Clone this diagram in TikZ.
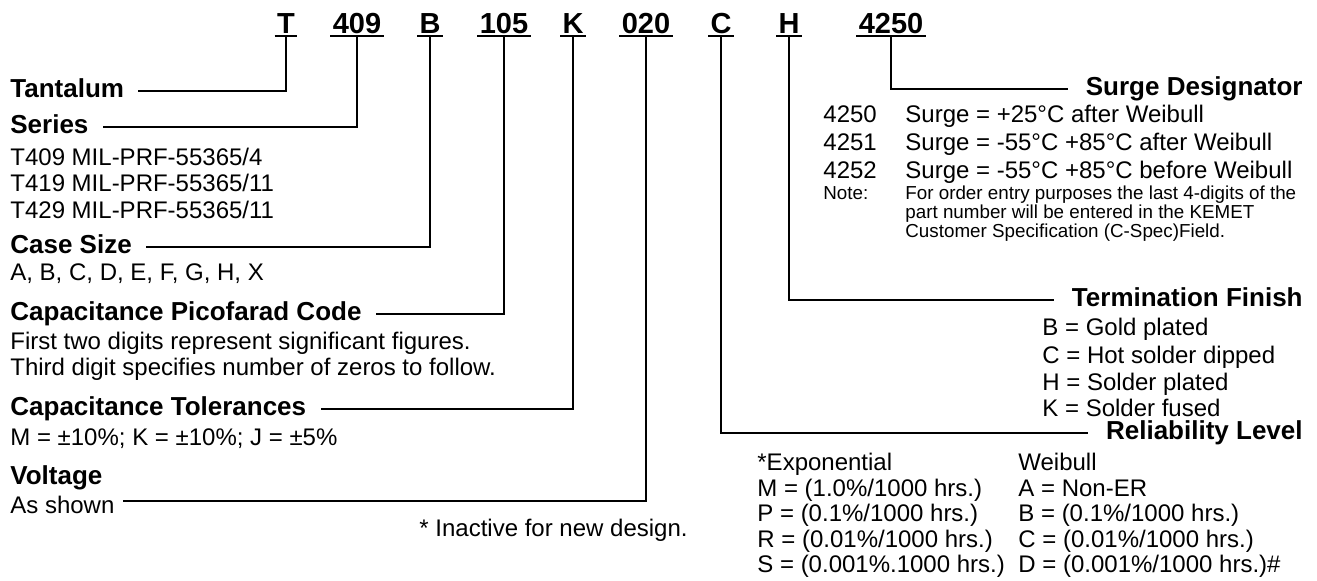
\documentclass[tikz,border=0pt]{standalone}
\usepackage{fontspec}
\setmainfont{Liberation Sans}
\usetikzlibrary{calc}

\tikzset{
  code/.style={font=\fontsize{14.5}{17}\selectfont\bfseries, inner sep=0pt, anchor=base},
  lbl/.style={font=\fontsize{13}{15}\selectfont\bfseries, inner sep=0pt, anchor=west, text height=6pt, text depth=0pt},
  txt/.style={font=\fontsize{12}{14}\selectfont, inner sep=0pt, anchor=west, text height=8.6pt, text depth=0pt},
  small/.style={txt, font=\fontsize{9.4}{11}\selectfont, text height=6.7pt},
  lead/.style={line width=1pt},
  uline/.style={line width=1.3pt},
}

\begin{document}
\begin{tikzpicture}[x=0.5pt, y=-0.5pt]
\useasboundingbox (0,0) rectangle (1317,580);

% part number
\node[code] (cT) at (286,33) {T};
\node[code] (c409) at (357,33) {409};
\node[code] (cB) at (430,33) {B};
\node[code] (c105) at (504,33) {105};
\node[code] (cK) at (573,33) {K};
\node[code] (c020) at (646,33) {020};
\node[code] (cC) at (721,33) {C};
\node[code] (cH) at (789,33) {H};
\node[code] (c4250) at (891,33) {4250};
\foreach \c in {cT,c409,cB,c105,cK,c020,cC,cH,c4250}
  \draw[uline] ([xshift=-1pt,yshift=-1.4pt]\c.base west) -- ([xshift=1pt,yshift=-1.4pt]\c.base east);

% left side
\node[lbl] (tant) at (10,91) {Tantalum};
\node[lbl] (series) at (10,127) {Series};
\node[txt] (t409) at (10,157) {T409 MIL-PRF-55365/4};
\node[txt] (t419) at (10,183) {T419 MIL-PRF-55365/11};
\node[txt] (t429) at (10,210) {T429 MIL-PRF-55365/11};
\node[lbl] (case) at (10,247) {Case Size};
\node[txt] (sizes) at (10,272) {A, B, C, D, E, F, G, H, X};
\node[lbl] (pico) at (10,314) {Capacitance Picofarad Code};
\node[txt] (first) at (10,341) {First two digits represent significant figures.};
\node[txt] (third) at (10,367) {Third digit specifies number of zeros to follow.};
\node[lbl] (tol) at (10,409) {Capacitance Tolerances};
\node[txt] (tolv) at (10,437) {M = ±10\%; K = ±10\%; J = ±5\%};
\node[lbl] (volt) at (10,478) {Voltage};
\node[txt] (shown) at (10,505) {As shown};
\node[txt, anchor=east] (inact) at (688,528) {* Inactive for new design.};

\draw[lead, shorten >=7pt] ([yshift=-1.4pt]cT.base) |- (tant.east);
\draw[lead, shorten >=7pt] ([yshift=-1.4pt]c409.base) |- (series.east);
\draw[lead, shorten >=7pt] ([yshift=-1.4pt]cB.base) |- (case.east);
\draw[lead, shorten >=7pt] ([yshift=-1.4pt]c105.base) |- (pico.east);
\draw[lead, shorten >=7pt] ([yshift=-1.4pt]cK.base) |- (tol.east);
\draw[lead, shorten >=4pt] ([yshift=-1.4pt]c020.base) |- ([yshift=2pt]shown.east);

% right side
\node[lbl, anchor=east] (surge) at (1303,89) {Surge Designator};
\node[txt] (n4250) at (823,114) {4250};
\node[txt] (s4250) at (905,114) {Surge = +25°C after Weibull};
\node[txt] (n4251) at (823,142) {4251};
\node[txt] (s4251) at (905,142) {Surge = -55°C +85°C after Weibull};
\node[txt] (n4252) at (823,170) {4252};
\node[txt] (s4252) at (905,170) {Surge = -55°C +85°C before Weibull};
\node[small] (note) at (823,193) {Note:};
\node[small] (note1) at (905,193) {For order entry purposes the last 4-digits of the};
\node[small] (note2) at (905,212) {part number will be entered in the KEMET};
\node[small] (note3) at (905,231) {Customer Specification (C-Spec)Field.};

\node[lbl, anchor=east] (term) at (1303,300) {Termination Finish};
\node[txt] (fB) at (1042,327) {B = Gold plated};
\node[txt] (fC) at (1042,355) {C = Hot solder dipped};
\node[txt] (fH) at (1042,382) {H = Solder plated};
\node[txt] (fK) at (1042,408) {K = Solder fused};

\node[lbl, anchor=east] (rel) at (1303,433) {Reliability Level};
\node[txt] (expo) at (757,462) {*Exponential};
\node[txt] (rM) at (757,488) {M = (1.0\%/1000 hrs.)};
\node[txt] (rP) at (757,513) {P = (0.1\%/1000 hrs.)};
\node[txt] (rR) at (757,539) {R = (0.01\%/1000 hrs.)};
\node[txt] (rS) at (757,564) {S = (0.001\%.1000 hrs.)};
\node[txt] (weib) at (1018,462) {Weibull};
\node[txt] (wA) at (1018,488) {A = Non-ER};
\node[txt] (wB) at (1018,513) {B = (0.1\%/1000 hrs.)};
\node[txt] (wC) at (1018,539) {C = (0.01\%/1000 hrs.)};
\node[txt] (wD) at (1018,564) {D = (0.001\%/1000 hrs.)\#};

\draw[lead, shorten >=9pt] ([yshift=-1.4pt]c4250.base) |- (surge.west);
\draw[lead, shorten >=9pt] ([yshift=-1.4pt]cH.base) |- (term.west);
\draw[lead, shorten >=9pt] ([yshift=-1.4pt]cC.base) |- (rel.west);
\end{tikzpicture}
\end{document}
